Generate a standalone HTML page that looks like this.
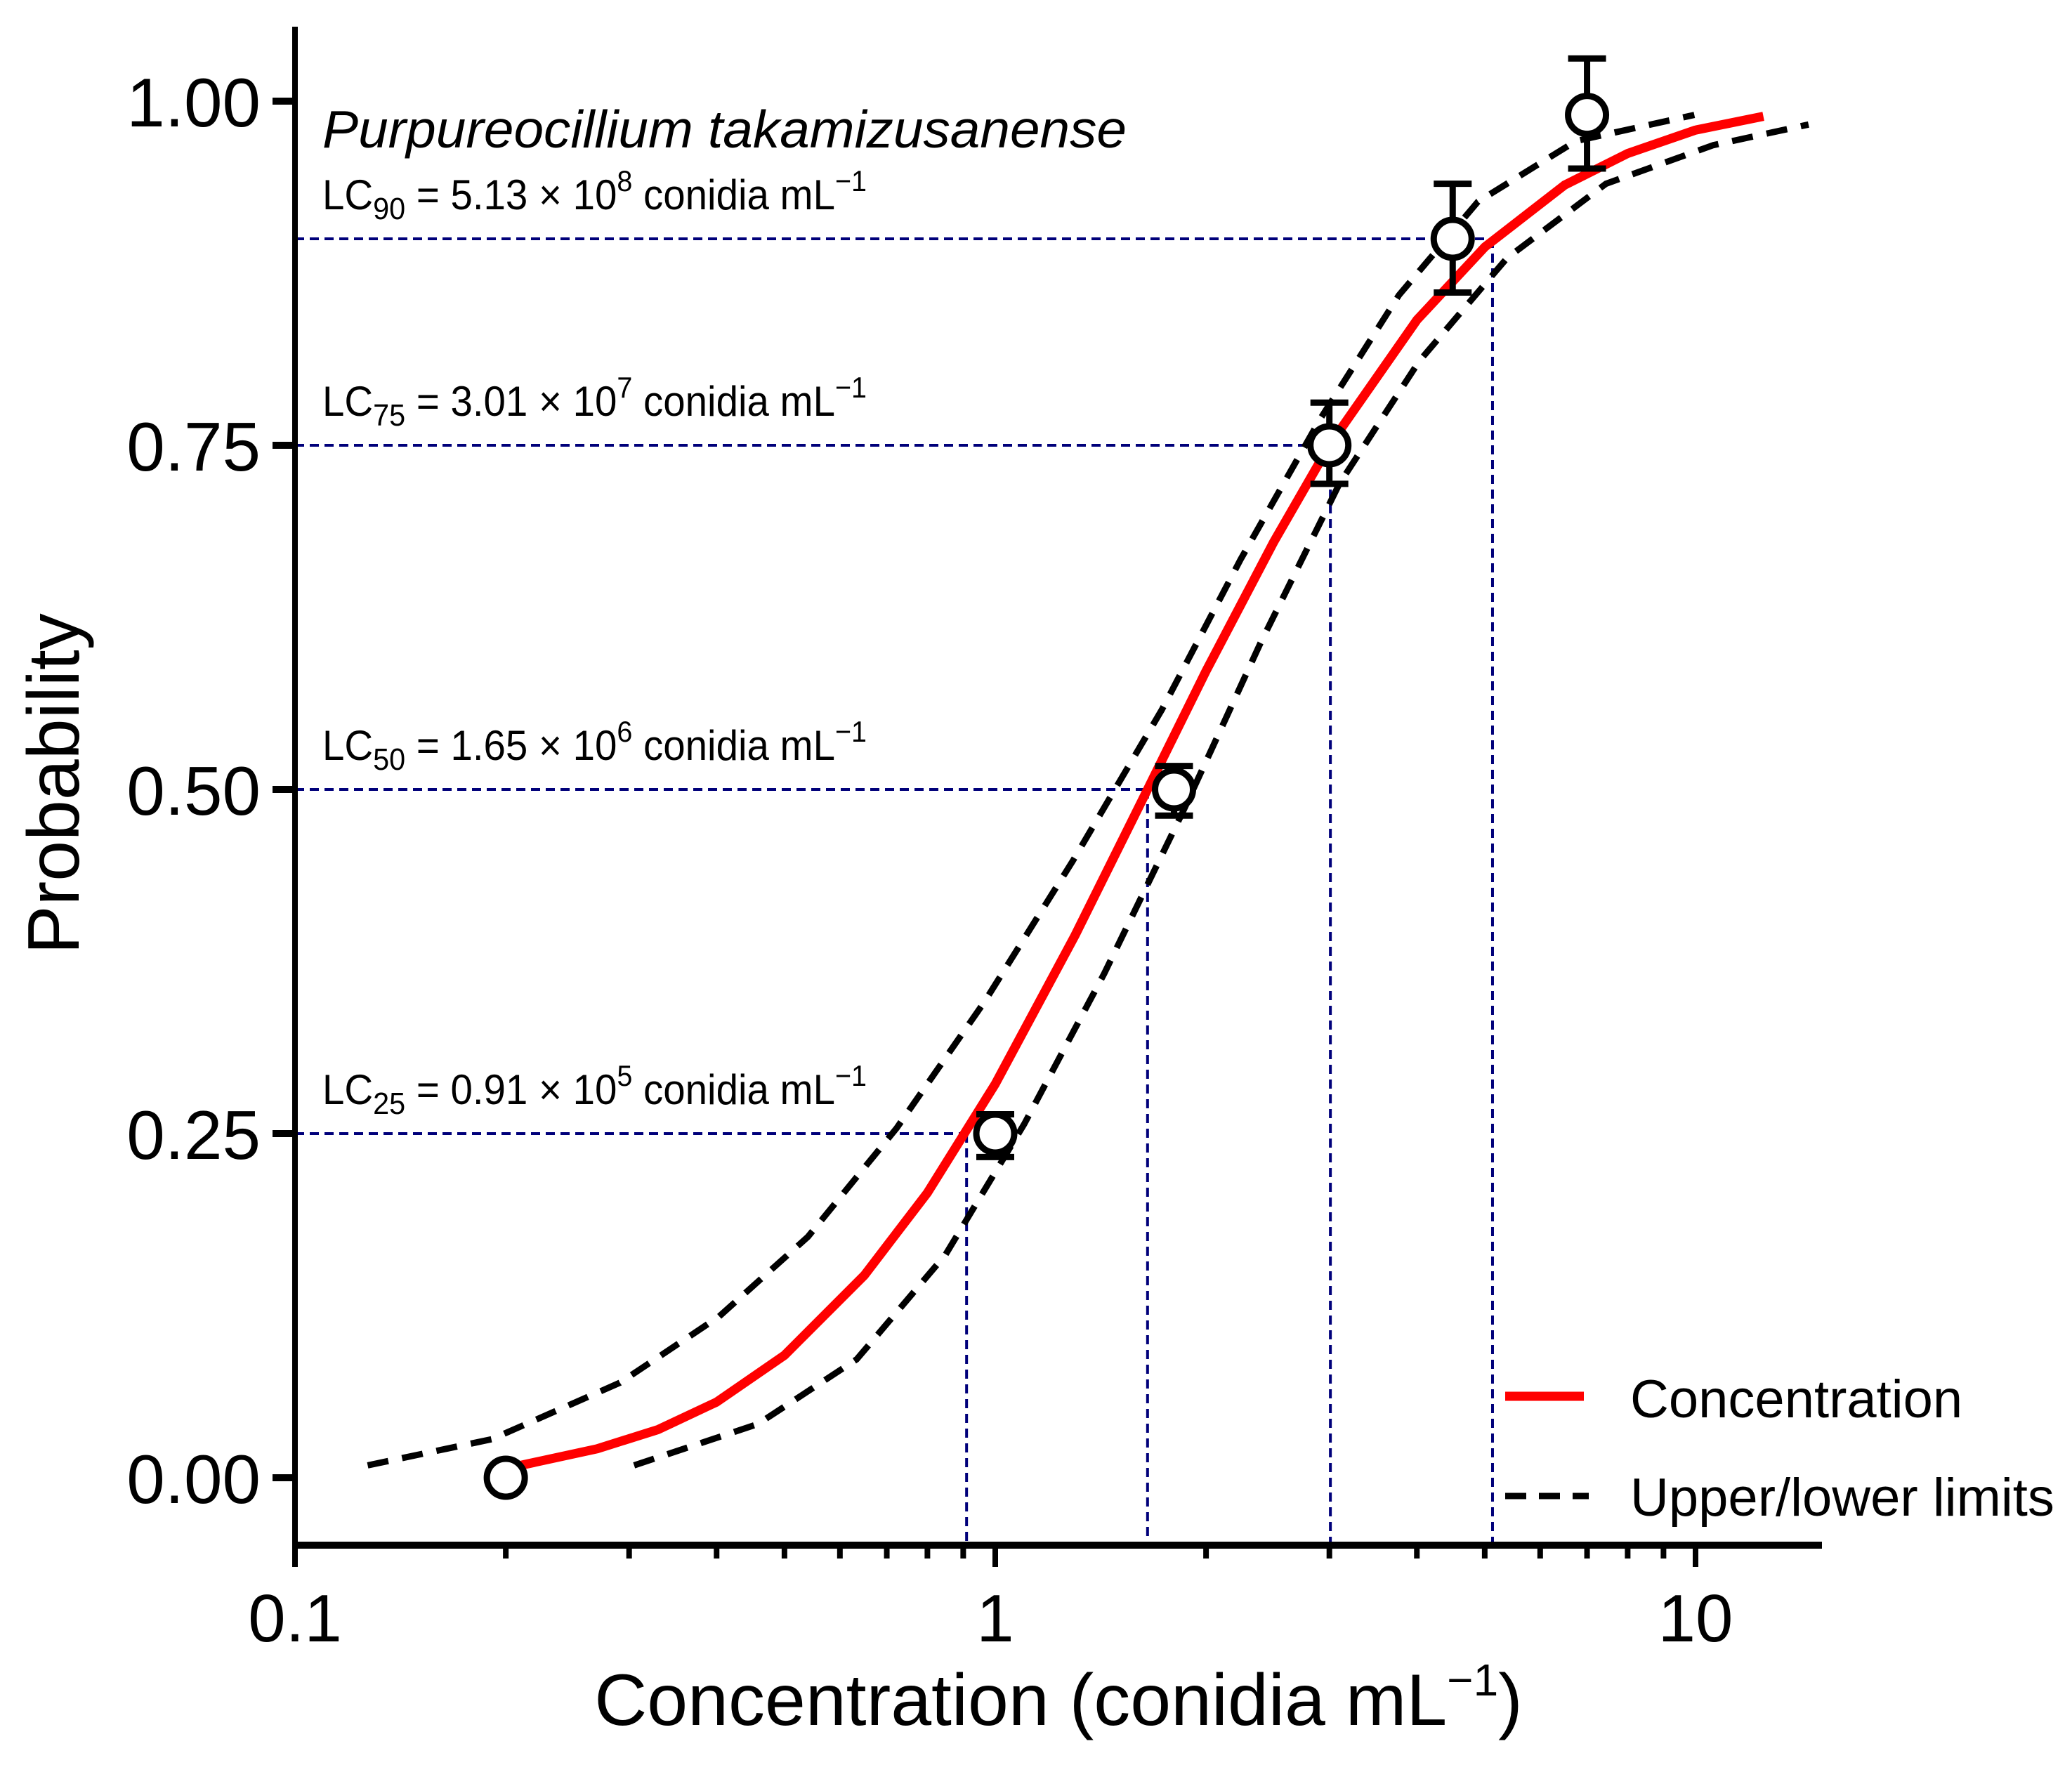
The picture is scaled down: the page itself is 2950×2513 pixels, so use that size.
<!DOCTYPE html>
<html><head><meta charset="utf-8"><style>
html,body{margin:0;padding:0;background:#fff;}
svg{display:block;font-family:"Liberation Sans",Arial,sans-serif;}
</style></head><body>
<svg id="chart" width="2950" height="2513" viewBox="0 0 2950 2513" xmlns="http://www.w3.org/2000/svg">
<g id="grid"></g>
<g id="series"></g>
<g id="axes"></g>
<text x="459" y="210" font-size="75" font-style="italic" textLength="1145" lengthAdjust="spacingAndGlyphs">Purpureocillium takamizusanense</text>
<g id="lclabels"></g>
<text x="1507" y="2456" font-size="104" text-anchor="middle">Concentration (conidia mL<tspan dy="-42" font-size="64">−1</tspan><tspan dy="42">)</tspan></text>
<text transform="translate(112,1116) rotate(-90)" font-size="104" text-anchor="middle">Probability</text>
<g>
<line x1="2143" y1="1988" x2="2255" y2="1988" stroke="#ff0000" stroke-width="13"/>
<text x="2321" y="2018" font-size="76">Concentration</text>
<line x1="2143" y1="2130" x2="2262" y2="2130" stroke="#000" stroke-width="9" stroke-dasharray="30,18"/>
<text x="2321" y="2158" font-size="76">Upper/lower limits</text>
</g>
</svg>
<script>
const redX=[0.21,0.27,0.33,0.4,0.5,0.65,0.8,1.0,1.3,1.65,2.0,2.5,3.0,4.0,5.0,6.5,8,10,12.5];
const redP=[0.009,0.021,0.035,0.055,0.089,0.147,0.207,0.286,0.394,0.5,0.586,0.68,0.75,0.841,0.894,0.939,0.962,0.979,0.989];
const upX=[0.127,0.191,0.291,0.403,0.54,0.723,0.966,1.29,1.73,2.24,2.91,3.77,4.89,6.75,9.96];
const upP=[0.009,0.028,0.069,0.117,0.175,0.254,0.346,0.448,0.558,0.667,0.769,0.859,0.927,0.971,0.99];
const loX=[0.305,0.458,0.634,0.849,1.10,1.43,1.85,2.39,3.10,4.03,5.38,7.45,10.6,14.5];
const loP=[0.009,0.039,0.086,0.162,0.257,0.366,0.483,0.606,0.722,0.811,0.886,0.94,0.968,0.983];
const ptX=[0.2,1.0,1.8,3.0,4.5,7.0];
const ptP=[0.0,0.25,0.50,0.75,0.90,0.99];
const ptLo=[0.0,0.233,0.481,0.722,0.861,0.951];
const ptHi=[0.0,0.264,0.517,0.781,0.94,1.031];
const lcX=[0.91,1.65,3.01,5.13];
const lcP=[0.25,0.50,0.75,0.90];
const lcSub=["25","50","75","90"];
const lcVal=["0.91","1.65","3.01","5.13"];
const lcExp=["5","6","7","8"];
const yTicks=[0,0.25,0.5,0.75,1.0];
const yTickLabels=["0.00","0.25","0.50","0.75","1.00"];
const xMajor=[0.1,1,10];
const xMajorLabels=["0.1","1","10"];
const xMinor=[0.2,0.3,0.4,0.5,0.6,0.7,0.8,0.9,2,3,4,5,6,7,8,9];

const NS="http://www.w3.org/2000/svg";
const X0=420,DEC=997,Y0=2104,YU=1960,AXY=2200,XEND=2594;
function sx(v){return X0+(Math.log10(v)+1)*DEC;}
function sy(p){return Y0-p*YU;}
function mk(tag,attrs,parent){const e=document.createElementNS(NS,tag);for(const k in attrs)e.setAttribute(k,attrs[k]);parent.appendChild(e);return e;}
const grid=document.getElementById('grid'),series=document.getElementById('series'),axes=document.getElementById('axes'),lcl=document.getElementById('lclabels');

lcX.forEach((v,i)=>{
 const h=mk('line',{x1:X0,y1:sy(lcP[i]),x2:sx(v),y2:sy(lcP[i]),stroke:'#00007a','stroke-width':4,'stroke-dasharray':'13,8'},grid);
 
 
 const vl=mk('line',{x1:sx(v),y1:sy(lcP[i]),x2:sx(v),y2:AXY,stroke:'#00007a','stroke-width':4,'stroke-dasharray':'13,8'},grid);
 
 
 const t=mk('text',{x:459,y:sy(lcP[i])-42,'font-size':60,textLength:775,lengthAdjust:'spacingAndGlyphs'},lcl);
 
 
 t.innerHTML='LC<tspan dy="14" font-size="44">'+lcSub[i]+'</tspan><tspan dy="-14"> = '+lcVal[i]+' × 10</tspan><tspan dy="-26" font-size="42">'+lcExp[i]+'</tspan><tspan dy="26"> conidia mL</tspan><tspan dy="-26" font-size="42">−1</tspan>';
});

function path(xs,ps){return xs.map((x,i)=>(i?'L':'M')+sx(x).toFixed(1)+','+sy(ps[i]).toFixed(1)).join(' ');}
const up=mk('path',{d:path(upX,upP),fill:'none',stroke:'#000','stroke-width':9,'stroke-dasharray':'30,20','stroke-linejoin':'round'},series);


const lo=mk('path',{d:path(loX,loP),fill:'none',stroke:'#000','stroke-width':9,'stroke-dasharray':'30,20','stroke-linejoin':'round'},series);


const red=mk('path',{d:path(redX,redP),fill:'none',stroke:'#ff0000','stroke-width':13,'stroke-linejoin':'round'},series);



ptX.forEach((v,i)=>{
 const cx=sx(v);
 if(ptHi[i]>ptLo[i]){
  const e=mk('path',{d:'M'+cx+','+sy(ptLo[i])+' L'+cx+','+sy(ptHi[i])+' M'+(cx-27)+','+sy(ptHi[i])+' L'+(cx+27)+','+sy(ptHi[i])+' M'+(cx-27)+','+sy(ptLo[i])+' L'+(cx+27)+','+sy(ptLo[i]),stroke:'#000','stroke-width':9,fill:'none'},series);
  
  
 }
 const c=mk('circle',{cx:cx,cy:sy(ptP[i]),r:27,fill:'#fff',stroke:'#000','stroke-width':9},series);
 
 
});

const ya=mk('line',{x1:X0,y1:38,x2:X0,y2:AXY+5,stroke:'#000','stroke-width':8},axes);


const xa=mk('line',{x1:X0-4,y1:AXY,x2:XEND,y2:AXY,stroke:'#000','stroke-width':10},axes);


yTicks.forEach((p,i)=>{
 const t=mk('line',{x1:388,y1:sy(p),x2:X0,y2:sy(p),stroke:'#000','stroke-width':10},axes);
 
 
 const l=mk('text',{x:371,y:sy(p)+36,'font-size':98,'text-anchor':'end'},axes);
 
 
 l.textContent=yTickLabels[i];
});
xMajor.forEach((v,i)=>{
 const t=mk('line',{x1:sx(v),y1:AXY,x2:sx(v),y2:2231,stroke:'#000','stroke-width':8},axes);
 
 
 const l=mk('text',{x:sx(v),y:2337,'font-size':96,'text-anchor':'middle'},axes);
 
 
 l.textContent=xMajorLabels[i];
});
xMinor.forEach(v=>{
 const t=mk('line',{x1:sx(v),y1:AXY,x2:sx(v),y2:2219,stroke:'#000','stroke-width':8},axes);
 
 
});
</script>
</body></html>
